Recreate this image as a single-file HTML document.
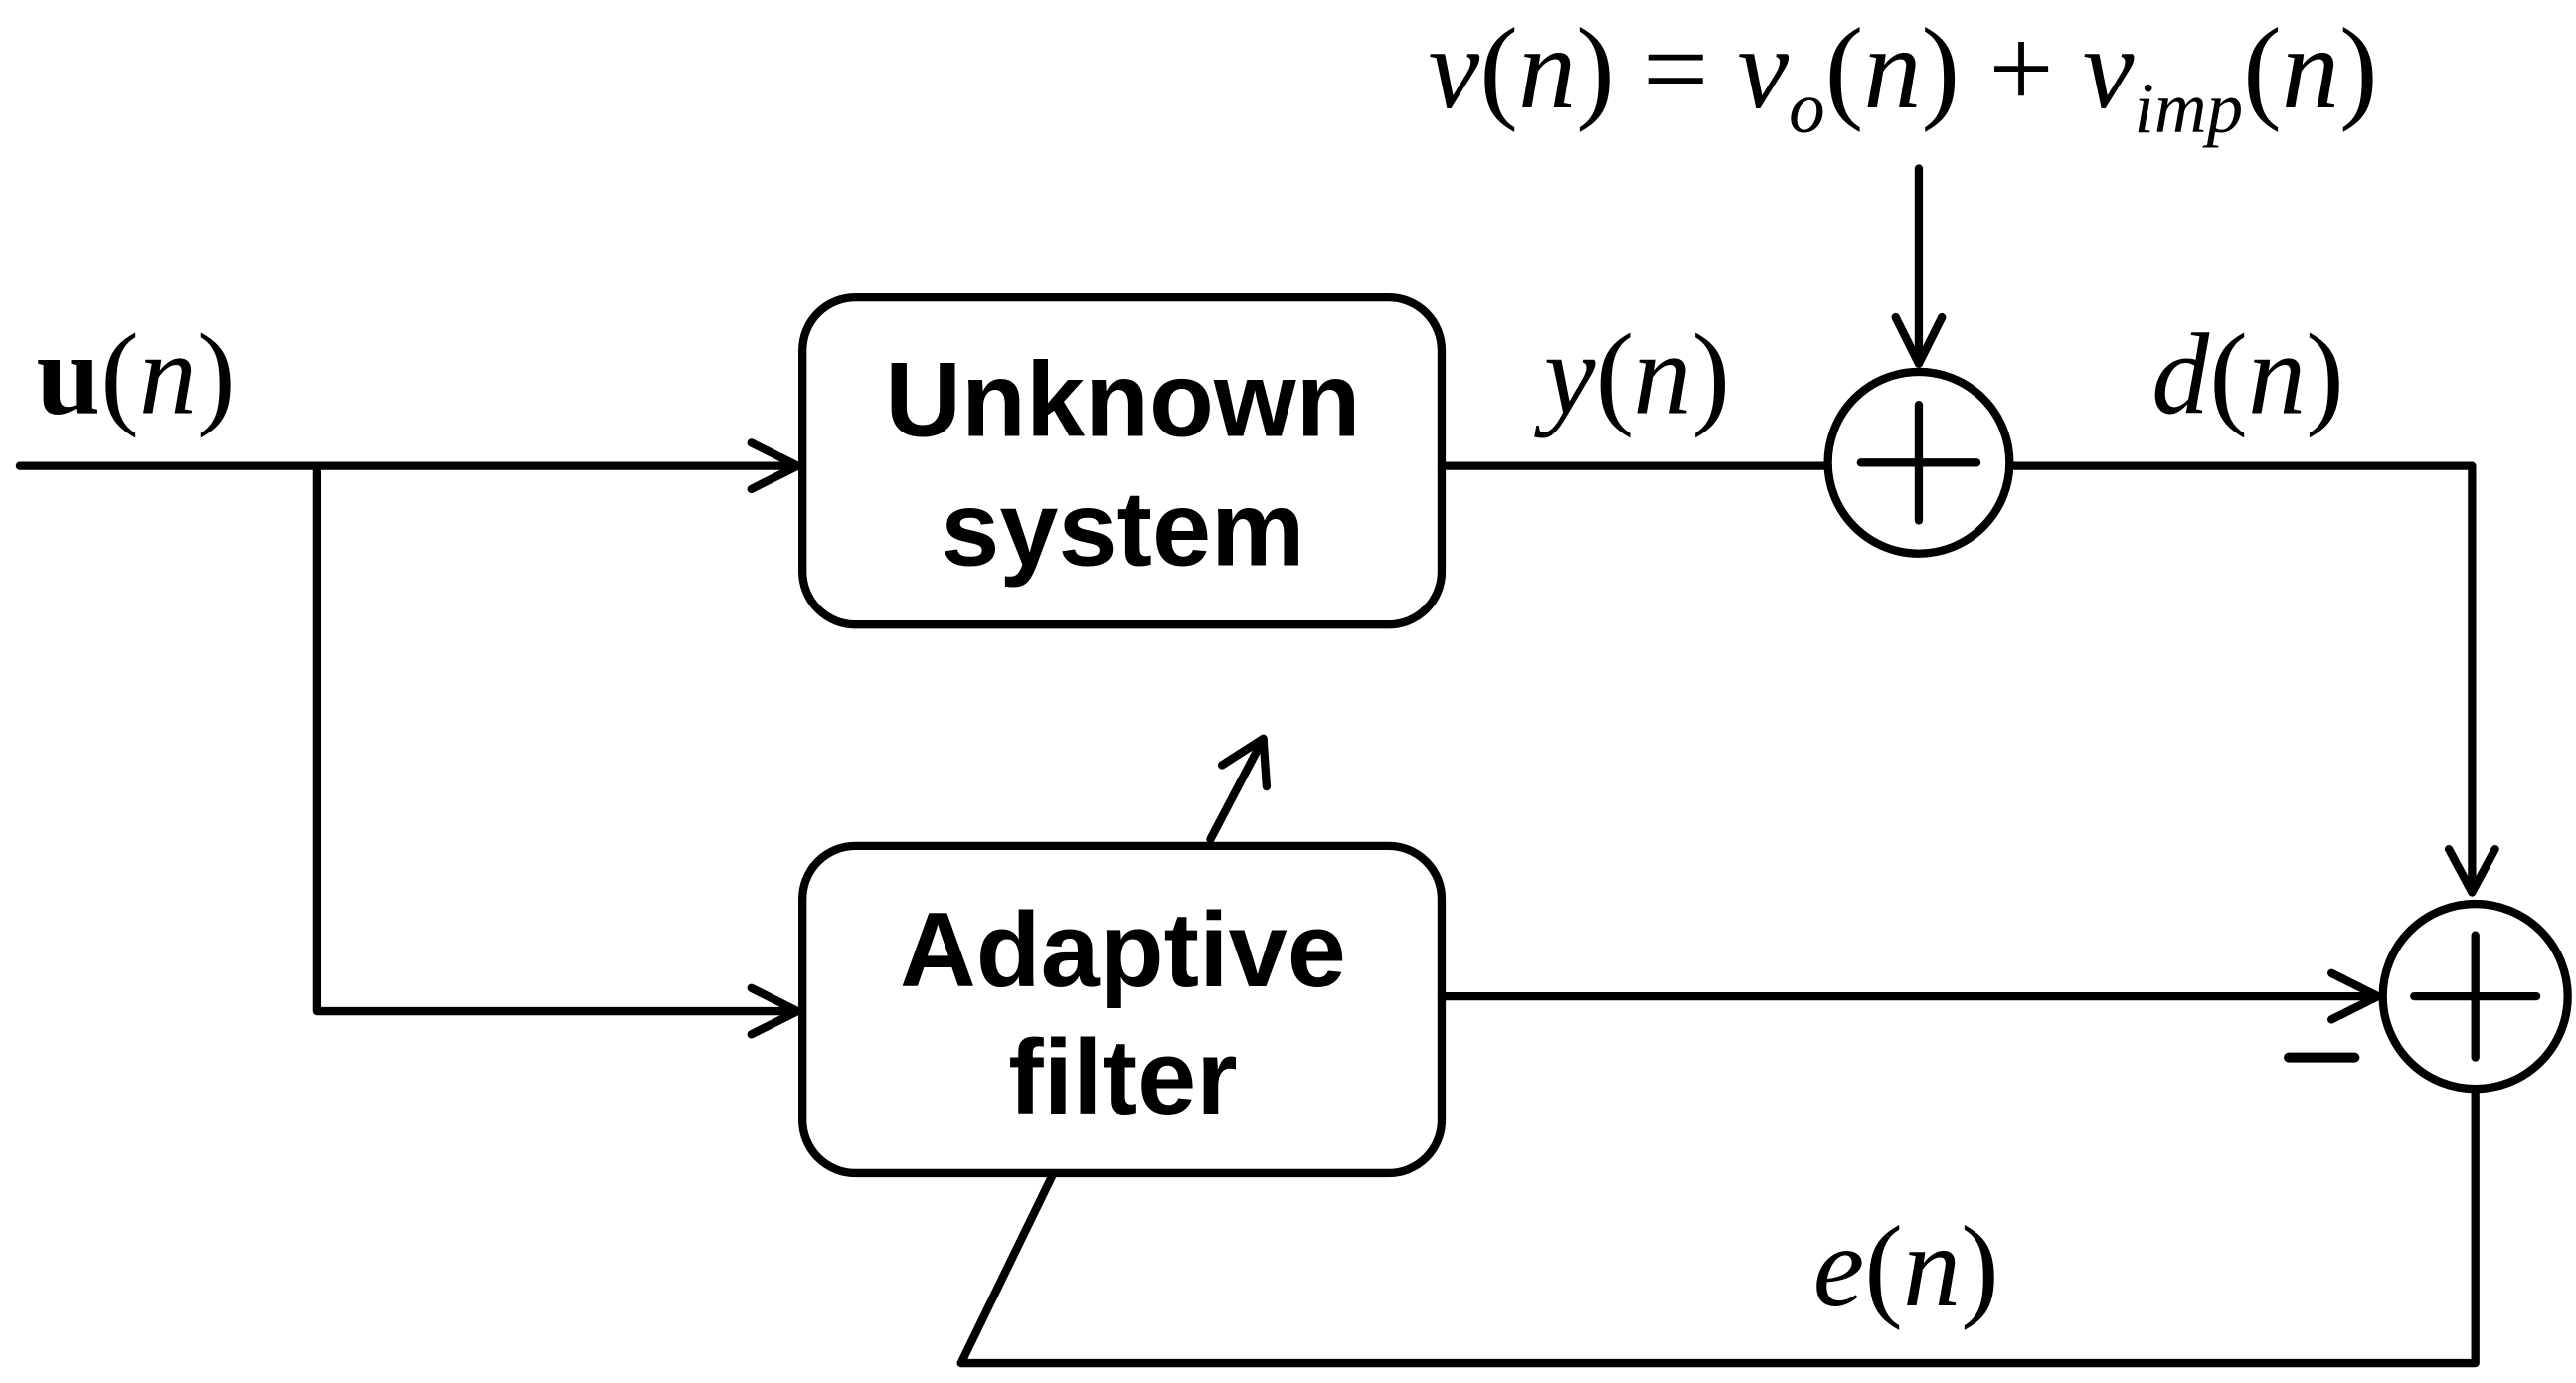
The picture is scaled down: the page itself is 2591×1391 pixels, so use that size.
<!DOCTYPE html>
<html><head><meta charset="utf-8"><style>
html,body{margin:0;padding:0;background:#fff;width:2591px;height:1391px;overflow:hidden}
svg{display:block}
.m{font-family:"Liberation Serif",serif;font-style:italic;font-size:70px}
.b{font-family:"Liberation Sans",sans-serif;font-weight:bold;font-size:64px}
</style></head><body>
<svg width="2591" height="1391" viewBox="0 0 1560 837" preserveAspectRatio="none" xmlns="http://www.w3.org/2000/svg">
<g fill="none" stroke="#000" stroke-width="5" stroke-linecap="round" stroke-linejoin="round">
<rect x="486" y="180" width="387" height="198" rx="32"/>
<rect x="486" y="512" width="387" height="198" rx="32"/>
<line x1="12" y1="282" x2="483" y2="282"/>
<polyline points="455,268 483,282 455,296"/>
<polyline points="192,282 192,612 483,612"/>
<polyline points="455,598 483,612 455,626"/>
<line x1="873" y1="282" x2="1107" y2="282"/>
<circle cx="1162" cy="280" r="55"/>
<line x1="1162" y1="245" x2="1162" y2="315"/>
<line x1="1127" y1="280" x2="1197" y2="280"/>
<line x1="1162" y1="102" x2="1162" y2="220"/>
<polyline points="1148,192 1162,220 1176,192"/>
<polyline points="1217,282 1497,282 1497,540"/>
<polyline points="1483,514 1497,540 1511,514"/>
<circle cx="1499" cy="603" r="56"/>
<line x1="1499" y1="566" x2="1499" y2="640"/>
<line x1="1462" y1="603" x2="1536" y2="603"/>
<line x1="873" y1="603" x2="1440" y2="603"/>
<polyline points="1412,589 1440,603 1412,617"/>
<line x1="1386" y1="640" x2="1426" y2="640" stroke-width="6"/>
<polyline points="1499,660 1499,825 582,825 637,712"/>
<line x1="733" y1="508" x2="765" y2="447"/>
<polyline points="740,463 765,447 767,476"/>
</g>
<g fill="#000">
<text class="b" x="680" y="264" text-anchor="middle">Unknown</text>
<text class="b" x="680" y="342" text-anchor="middle">system</text>
<text class="b" x="680" y="597" text-anchor="middle">Adaptive</text>
<text class="b" x="680" y="674" text-anchor="middle">filter</text>
<text x="22" y="250" font-family="Liberation Serif,serif" font-size="70"><tspan font-weight="bold">u</tspan>(<tspan font-style="italic">n</tspan>)</text>
<text class="m" x="935" y="250"><tspan>y</tspan><tspan font-style="normal">(</tspan>n<tspan font-style="normal">)</tspan></text>
<text class="m" x="1303" y="250">d<tspan font-style="normal">(</tspan>n<tspan font-style="normal">)</tspan></text>
<text class="m" x="1098" y="790">e<tspan font-style="normal">(</tspan>n<tspan font-style="normal">)</tspan></text>
<text class="m" x="865" y="65" font-size="72">v<tspan font-style="normal">(</tspan>n<tspan font-style="normal">) = </tspan>v<tspan font-size="44" dy="15">o</tspan><tspan font-style="normal" dy="-15">(</tspan>n<tspan font-style="normal">) + </tspan>v<tspan font-size="44" dy="15">imp</tspan><tspan font-style="normal" dy="-15">(</tspan>n<tspan font-style="normal">)</tspan></text>
</g>
</svg>
</body></html>
